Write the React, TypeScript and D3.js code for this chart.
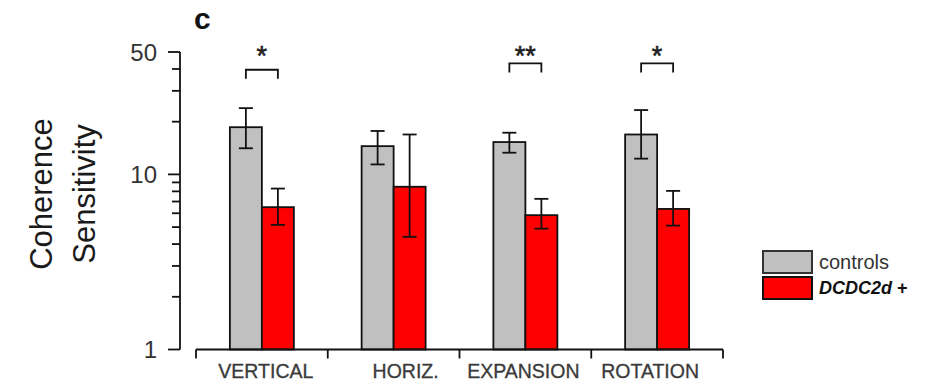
import * as d3 from "d3";
import { useEffect, useRef } from "react";

const categories = ["VERTICAL", "HORIZ.", "EXPANSION", "ROTATION"];
const groups = ["controls", "DCDC2d +"];

const controlsMean = [18.6, 14.5, 15.3, 16.9];
const controlsLow = [14.1, 11.4, 13.3, 12.3];
const controlsHigh = [23.9, 17.7, 17.3, 23.3];

const dcdcMean = [6.5, 8.5, 5.85, 6.35];
const dcdcLow = [5.15, 4.4, 4.9, 5.1];
const dcdcHigh = [8.3, 16.9, 7.25, 8.05];

const yTickLabels = [1, 10, 50];
const yMinorTicks = [2, 3, 4, 5, 6, 7, 8, 9, 20, 30, 40];

// significance: category, stars, bracket level (in data units)
const sigCategories = ["VERTICAL", "EXPANSION", "ROTATION"];
const sigStars = ["*", "**", "*"];
const sigLevels = [39.6, 43, 43];

// small horizontal nudges of the category labels, as in the figure
const labelNudge = [4, 12, -2, -7];

const colors = ["#c0c0c0", "#ff0000"];

function drawChart(svgElement: SVGSVGElement) {
  const width = 928;
  const height = 382;
  const svg = d3.select(svgElement);
  svg.selectAll("*").remove();
  svg.attr("width", width).attr("height", height).attr("viewBox", `0 0 ${width} ${height}`);

  const font = "'Liberation Sans', Arial, Helvetica, sans-serif";
  const axisX = 180;
  const sw = 1.8;

  const y = d3.scaleLog().domain([1, 50]).range([349.5, 52]);
  const x = d3.scaleBand<string>().domain(categories).range([196, 723]).padding(0);
  const inner = d3.scaleBand<string>().domain(groups).range([-32, 32]).padding(0);

  const rows = categories.map((c, i) => [
    { cat: c, g: 0, mean: controlsMean[i], lo: controlsLow[i], hi: controlsHigh[i] },
    { cat: c, g: 1, mean: dcdcMean[i], lo: dcdcLow[i], hi: dcdcHigh[i] },
  ]).flat();

  const cx = (d: { cat: string; g: number }) =>
    (x(d.cat) as number) + x.bandwidth() / 2 + (inner(groups[d.g]) as number);

  // bars
  svg
    .append("g")
    .selectAll("rect")
    .data(rows)
    .join("rect")
    .attr("x", (d) => cx(d))
    .attr("y", (d) => y(d.mean))
    .attr("width", inner.bandwidth())
    .attr("height", (d) => y(1) - y(d.mean))
    .attr("fill", (d) => colors[d.g])
    .attr("stroke", "#111")
    .attr("stroke-width", sw);

  // error bars
  const err = svg.append("g").attr("stroke", "#111").attr("stroke-width", sw).attr("fill", "none");
  rows.forEach((d) => {
    const mx = cx(d) + inner.bandwidth() / 2;
    err.append("line").attr("x1", mx).attr("x2", mx).attr("y1", y(d.lo)).attr("y2", y(d.hi));
    err.append("line").attr("x1", mx - 7).attr("x2", mx + 7).attr("y1", y(d.lo)).attr("y2", y(d.lo));
    err.append("line").attr("x1", mx - 7).attr("x2", mx + 7).attr("y1", y(d.hi)).attr("y2", y(d.hi));
  });

  // y axis
  const ya = svg.append("g").attr("stroke", "#111").attr("stroke-width", sw);
  ya.append("line").attr("x1", axisX).attr("x2", axisX).attr("y1", y(1)).attr("y2", y(50));
  yTickLabels.forEach((v) => {
    ya.append("line").attr("x1", axisX - 12).attr("x2", axisX).attr("y1", y(v)).attr("y2", y(v));
  });
  yMinorTicks.forEach((v) => {
    ya.append("line").attr("x1", axisX - 8).attr("x2", axisX).attr("y1", y(v)).attr("y2", y(v));
  });
  svg
    .append("g")
    .selectAll("text")
    .data(yTickLabels)
    .join("text")
    .attr("x", 157)
    .attr("y", (v) => y(v))
    .attr("dy", "0.36em")
    .attr("text-anchor", "end")
    .attr("font-family", font)
    .attr("font-size", 24)
    .attr("fill", "#333")
    .text((v) => String(v));

  // x axis
  const xa = svg.append("g").attr("stroke", "#111").attr("stroke-width", sw);
  xa.append("line").attr("x1", 196).attr("x2", 723).attr("y1", y(1)).attr("y2", y(1));
  const bounds = [...categories.map((c) => x(c) as number), 723];
  bounds.forEach((bx) => {
    xa.append("line").attr("x1", bx).attr("x2", bx).attr("y1", y(1)).attr("y2", y(1) + 9);
  });
  svg
    .append("g")
    .selectAll("text")
    .data(categories)
    .join("text")
    .attr("x", (c, i) => (x(c) as number) + x.bandwidth() / 2 + labelNudge[i])
    .attr("y", 378)
    .attr("text-anchor", "middle")
    .attr("font-family", font)
    .attr("font-size", 19.5)
    .attr("fill", "#3a3a3a")
    .attr("stroke", "#3a3a3a")
    .attr("stroke-width", 0.3)
    .text((c) => c);

  // y title
  const title = svg.append("g").attr("font-family", font).attr("font-size", 31).attr("fill", "#1a1a1a");
  title.append("text").attr("transform", "translate(52,194) rotate(-90)").attr("text-anchor", "middle").text("Coherence");
  title.append("text").attr("transform", "translate(95,194) rotate(-90)").attr("text-anchor", "middle").text("Sensitivity");

  // panel letter
  svg
    .append("text")
    .attr("x", 194)
    .attr("y", 29)
    .attr("font-family", font)
    .attr("font-size", 30)
    .attr("font-weight", "bold")
    .attr("fill", "#111")
    .text("c");

  // significance brackets
  const sig = svg.append("g");
  sigCategories.forEach((c, i) => {
    const left = (x(c) as number) + x.bandwidth() / 2 - inner.bandwidth() / 2;
    const right = left + inner.bandwidth();
    const by = y(sigLevels[i]);
    sig
      .append("path")
      .attr("d", `M${left},${by + 9}V${by}H${right}V${by + 9}`)
      .attr("fill", "none")
      .attr("stroke", "#111")
      .attr("stroke-width", sw);
    sig
      .append("text")
      .attr("x", (left + right) / 2)
      .attr("y", y(50) + 13)
      .attr("text-anchor", "middle")
      .attr("font-family", font)
      .attr("font-size", 27)
      .attr("fill", "#222")
      .attr("stroke", "#222")
      .attr("stroke-width", 0.6)
      .text(sigStars[i]);
  });

  // legend
  const lg = svg.append("g").attr("transform", "translate(763,251)");
  groups.forEach((g, i) => {
    lg.append("rect")
      .attr("x", 0)
      .attr("y", i * 26)
      .attr("width", 49)
      .attr("height", 22)
      .attr("fill", colors[i])
      .attr("stroke", i === 0 ? "#333" : "#111")
      .attr("stroke-width", 2);
  });
  lg.append("text")
    .attr("x", 56)
    .attr("y", 11)
    .attr("dy", "0.36em")
    .attr("font-family", font)
    .attr("font-size", 20)
    .attr("fill", "#333")
    .text(groups[0]);
  const t2 = lg
    .append("text")
    .attr("x", 56)
    .attr("y", 37)
    .attr("dy", "0.36em")
    .attr("font-family", font)
    .attr("font-size", 18)
    .attr("font-weight", "bold")
    .attr("fill", "#111");
  t2.append("tspan").attr("font-style", "italic").text("DCDC2d");
  t2.append("tspan").text(" +");
}

export default function App() {
  const svgRef = useRef<SVGSVGElement>(null);

  useEffect(() => {
    if (svgRef.current) drawChart(svgRef.current);
  }, []);

  return (
    <svg
      ref={svgRef}
      style={{ position: "absolute", left: 0, top: 0, background: "#fff" }}
      role="img"
      aria-label="Coherence sensitivity by motion type"
    />
  );
}
